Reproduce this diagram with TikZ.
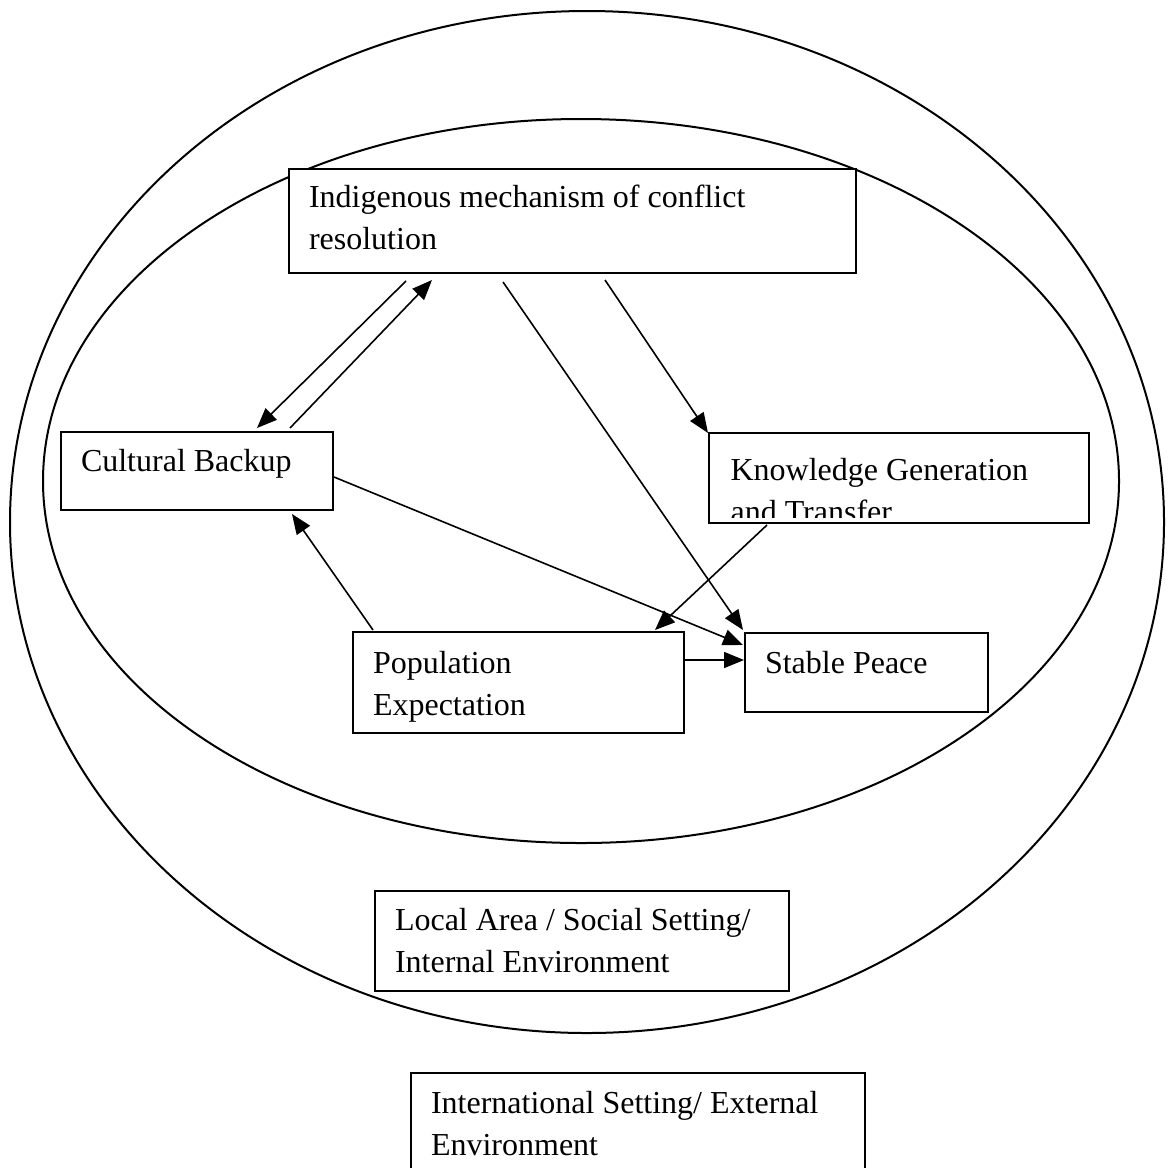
\documentclass[tikz,border=0pt]{standalone}
\usepackage{fontspec}
\setmainfont{Liberation Serif}
\usetikzlibrary{arrows.meta}
\def\kpx{0.375pt}
\tikzset{
kbox/.style={draw,fill=white,line width=0.75pt,anchor=north west,align=flush left,inner xsep=20*\kpx,inner ysep=0pt,font=\fontsize{12}{15.75}\selectfont},
ktxt/.style={inner sep=0pt,align=flush left,font=\fontsize{12}{15.75}\selectfont},
karr/.style={line width=0.6pt,-{Triangle[length=7.5pt,width=6pt]}},
}
\begin{document}
\begin{tikzpicture}[x=0.375pt,y=-0.375pt]
\useasboundingbox (0,0) rectangle (1171,1167);
\draw[line width=0.75pt](587,522) ellipse [x radius=577*\kpx, y radius=511*\kpx];
\draw[line width=0.75pt](581,481) ellipse [x radius=538*\kpx, y radius=362*\kpx];
\foreach \nm/\bx/\by/\bw/\bh/\bb/\txt in {ind/288/168/567/104/38/{Indigenous mechanism of conflict\\resolution},cult/60/431/272/78/39/{Cultural Backup},pop/352/631/331/101/41/{Population\\Expectation},peace/744/632/243/79/40/{Stable Peace},local/374/890/414/100/39/{Local Area / Social Setting/\\Internal Environment},intl/410/1072/454/120/40/{International Setting/ External\\Environment}}{
\pgfmathsetlengthmacro{\ktw}{(\bw-40)*\kpx}
\pgfmathsetlengthmacro{\kth}{\bb*\kpx}
\pgfmathsetlengthmacro{\ktd}{(\bh-\bb)*\kpx}
\node[kbox,text width=\ktw,text height=\kth,text depth=\ktd](\nm) at (\bx,\by){\txt};
}
\pgfmathsetlengthmacro{\ktw}{340*\kpx}
\pgfmathsetlengthmacro{\kth}{90*\kpx}
\node[kbox,text width=\ktw,text height=\kth,text depth=0pt](know) at (708,432){};
\begin{scope}
\clip([shift={(2,2)}]know.north west) rectangle ([shift={(-2,-7)}]know.south east);
\node[ktxt,text width=\ktw,anchor=base west](knowtxt) at ([shift={(22,48)}]know.north west){Knowledge Generation\\and Transfer};
\end{scope}
\draw[karr]([shift={(118,7)}]ind.south west)--([shift={(197,-3)}]cult.north west);
\draw[karr]([shift={(230,-3)}]cult.north west)--([shift={(144,6)}]ind.south west);
\draw[karr]([shift={(317,6)}]ind.south west)--([shift={(0,1)}]know.north west);
\draw[karr]([shift={(215,8)}]ind.south west)--([shift={(-1,-2)}]peace.north west);
\draw[karr]([shift={(0,6)}]cult.east)--([shift={(-1,13)}]peace.north west);
\draw[karr]([shift={(59,1)}]know.south west)--([shift={(303,-1)}]pop.north west);
\draw[karr]([shift={(21,-1)}]pop.north west)--([shift={(232,3)}]cult.south west);
\draw[karr]([shift={(0,29)}]pop.north east)--([shift={(0,28)}]peace.north west);
%\draw[karr](pop.east)--(peace.west);
\end{tikzpicture}
\end{document}
